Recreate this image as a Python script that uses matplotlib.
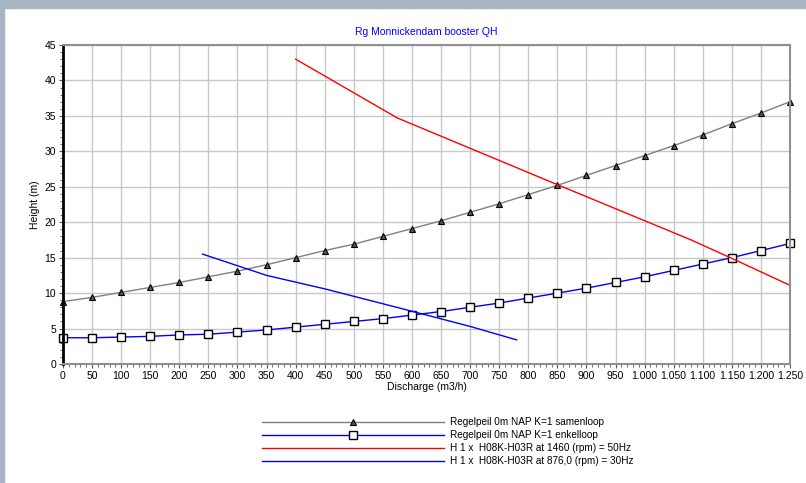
import matplotlib
matplotlib.use("Agg")
import matplotlib.pyplot as plt
from matplotlib.ticker import MultipleLocator, FuncFormatter
from matplotlib.patches import Rectangle

plt.rcParams['font.family'] = ['Liberation Sans', 'DejaVu Sans']

# system curves (every 50 m3/h)
q_sys = list(range(0, 1251, 50))
h_samen = [8.8, 9.4, 10.1, 10.8, 11.5, 12.3, 13.1, 14.0, 15.0, 16.0, 16.9, 18.0, 19.1,
           20.2, 21.4, 22.6, 23.9, 25.2, 26.6, 28.0, 29.4, 30.8, 32.3, 33.9, 35.4, 37.0]
h_enkel = [3.7, 3.7, 3.8, 3.9, 4.1, 4.2, 4.5, 4.8, 5.2, 5.6, 6.0, 6.4, 6.9,
           7.4, 8.0, 8.6, 9.3, 10.0, 10.7, 11.5, 12.3, 13.2, 14.1, 15.0, 16.0, 17.0]

# pump curves
q_50hz = [400, 575, 850, 1080, 1150, 1250]
h_50hz = [43.0, 34.7, 25.3, 17.5, 14.9, 11.1]
q_30hz = [240, 350, 450, 550, 630, 700, 780]
h_30hz = [15.5, 12.5, 10.6, 8.5, 6.8, 5.3, 3.4]

labels = ["Regelpeil 0m NAP K=1 samenloop",
          "Regelpeil 0m NAP K=1 enkelloop",
          "H 1 x  H08K-H03R at 1460 (rpm) = 50Hz",
          "H 1 x  H08K-H03R at 876,0 (rpm) = 30Hz"]

fig = plt.figure(figsize=(8.06, 4.83), dpi=100)
# grey window frame
fig.patches.append(Rectangle((0, 1 - 8 / 483), 1, 8 / 483, transform=fig.transFigure,
                             color='#a7b4c1', zorder=0))
fig.patches.append(Rectangle((0, 0), 4 / 806, 1, transform=fig.transFigure,
                             color='#a7b4c1', zorder=0))

ax = fig.add_axes([63 / 806, 119 / 483, 727 / 806, 319 / 483])

l1, = ax.plot(q_sys, h_samen, color='#808080', lw=1, marker='^', ms=5,
              mfc='#555555', mec='black', mew=0.8, label=labels[0])
l2, = ax.plot(q_sys, h_enkel, color='#0000ff', lw=1, marker='s', ms=5.5,
              mfc='white', mec='black', mew=1, label=labels[1])
l3, = ax.plot(q_50hz, h_50hz, color='#ff0000', lw=1, label=labels[2])
l4, = ax.plot(q_30hz, h_30hz, color='#0000ff', lw=1, label=labels[3])
for ln in (l1, l2):
    ln.set_clip_on(False)

ax.set_xlim(0, 1250)
ax.set_ylim(0, 45)
ax.xaxis.set_major_locator(MultipleLocator(50))
ax.xaxis.set_minor_locator(MultipleLocator(10))
ax.yaxis.set_major_locator(MultipleLocator(5))
ax.yaxis.set_minor_locator(MultipleLocator(1))
ax.xaxis.set_major_formatter(FuncFormatter(lambda v, p: f"{int(v):,}".replace(',', '.')))
ax.grid(True, which='major', color='#c8c8c8', lw=1)
ax.set_axisbelow(True)
ax.tick_params(which='major', length=3, labelsize=7.5, pad=2, color='#555555')
ax.tick_params(which='minor', length=2, color='#555555')

for s in ('top', 'right', 'bottom'):
    ax.spines[s].set_color('#909090')
    ax.spines[s].set_linewidth(1.5)
ax.spines['left'].set_color('black')
ax.spines['left'].set_linewidth(2)

ax.set_xlabel("Discharge (m3/h)", fontsize=7.5, labelpad=1)
ax.set_ylabel("Height (m)", fontsize=7.5, labelpad=3)
ax.set_title("Rg Monnickendam booster QH", fontsize=7.5, color='#0000ff', pad=7)

fig.legend(handles=[l1, l2, l3, l4], loc='upper left',
           bbox_to_anchor=(257 / 806, (483 - 412) / 483), frameon=False,
           fontsize=7.2, handlelength=18.2, handletextpad=0.6, labelspacing=0.3,
           borderpad=0, numpoints=1)

fig.savefig("out.png", dpi=100)
